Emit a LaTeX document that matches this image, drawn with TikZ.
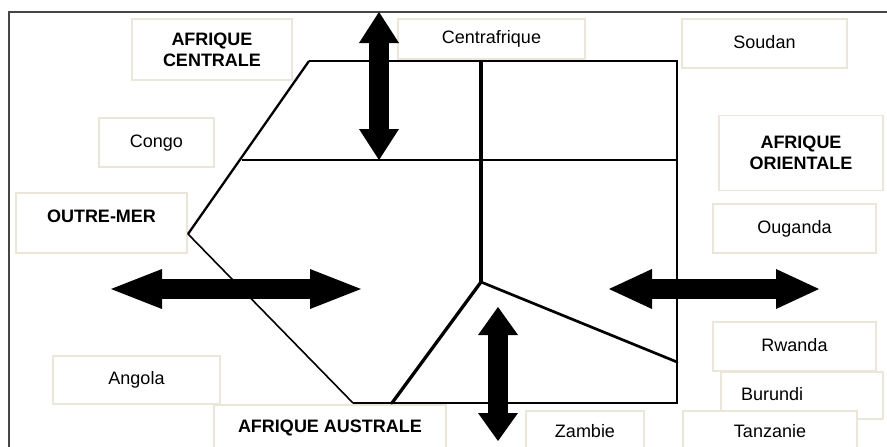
\documentclass[tikz,border=0pt]{standalone}
\usepackage{fontspec}
\setmainfont{Liberation Sans}
\usetikzlibrary{arrows.meta}
\definecolor{boxline}{RGB}{234,231,218}
\definecolor{frameline}{RGB}{70,70,70}

\begin{document}
\begin{tikzpicture}[x=1pt,y=-1pt,
  country/.style={draw=boxline,line width=1.5pt,fill=white,inner sep=0pt,
    text height=13pt,text depth=4pt,font=\fontsize{18}{21}\selectfont},
  region/.style={draw=boxline,line width=1.5pt,fill=white,inner sep=0pt,
    align=center,font=\fontsize{18}{21}\selectfont\bfseries},
  border/.style={line width=2pt,line join=miter},
  bigarrow/.style={line width=20pt,
    {Triangle[length=#1,width=40pt,line width=0pt]}-{Triangle[length=#1,width=40pt,line width=0pt]}}]
  \useasboundingbox (0,0) rectangle (887,447);
  \fill[white] (0,0) rectangle (887,447);
  \draw[frameline,line width=1.5pt] (9,447)--(9,12)--(887,12);

  % text boxes
  \node[region,minimum width=160,minimum height=61] (centrale) at (212,49.5) {AFRIQUE\\CENTRALE};
  \node[country,minimum width=115,minimum height=49] (congo) at (156.5,142.5) {Congo};
  \node[region,minimum width=171,minimum height=60,text height=13pt,text depth=14pt] (outremer) at (101.5,223) {OUTRE-MER};
  \node[country,minimum width=167,minimum height=48] (angola) at (136.5,380) {Angola};
  \node[region,minimum width=232,minimum height=45,text height=13pt,text depth=4pt] (australe) at (330,427.5) {AFRIQUE AUSTRALE};
  \node[country,minimum width=187,minimum height=40] (centrafrique) at (491.5,39) {Centrafrique};
  \node[country,minimum width=165,minimum height=49] (soudan) at (764.5,43.5) {Soudan};
  \node[region,minimum width=164,minimum height=75] (orientale) at (801,153) {AFRIQUE\\ORIENTALE};
  \node[country,minimum width=163,minimum height=49] (ouganda) at (794.5,228.5) {Ouganda};
  \node[country,minimum width=163,minimum height=49] (rwanda) at (794.5,346.5) {Rwanda};
  \node[country,minimum height=47,inner xsep=20pt,text width=122pt,align=left] (burundi) at (802,395.5) {Burundi};
  \node[country,minimum width=174,minimum height=44] (tanzanie) at (770,433) {Tanzanie};
  \node[country,minimum width=118,minimum height=44] (zambie) at (585,433) {Zambie};

  % map
  \coordinate (tl) at (309,61);
  \coordinate (tr) at (677,61);
  \coordinate (br) at (677,403);
  \coordinate (bl) at (353,403);
  \coordinate (lp) at (188,234);
  \coordinate (ml) at (242,160);
  \coordinate (mr) at (677,160);
  \coordinate (ct) at (481,61);
  \coordinate (cc) at (481,282);
  \coordinate (cb) at (392,403);
  \coordinate (cr) at (677,362);
  \draw[border] (bl)--(br)--(tr)--(tl);
  \draw[line width=2.3pt] (tl)--(lp);
  \draw[line width=1.6pt] (lp)--(bl);
  \draw[line width=1.3pt] (ml)--(mr);
  \draw[line width=4pt] (ct)--(cc);
  \draw[line width=3.3pt,line cap=round] (cc)--(cb);
  \draw[line width=2.7pt,line cap=round] (cc)--(cr);

  % arrows
  \coordinate (nt) at (379,12);
  \coordinate (nb) at (379,160);
  \coordinate (sw) at (111,289);
  \coordinate (se) at (361,289);
  \coordinate (ew) at (609,289);
  \coordinate (ee) at (819,289);
  \coordinate (st) at (498,307);
  \coordinate (sb) at (498,441);
  \draw[bigarrow=31pt] (nt)--(nb);
  \draw[bigarrow=51pt] (sw)--(se);
  \draw[bigarrow=43pt] (ew)--(ee);
  \draw[bigarrow=28pt] (st)--(sb);
\end{tikzpicture}
\end{document}
